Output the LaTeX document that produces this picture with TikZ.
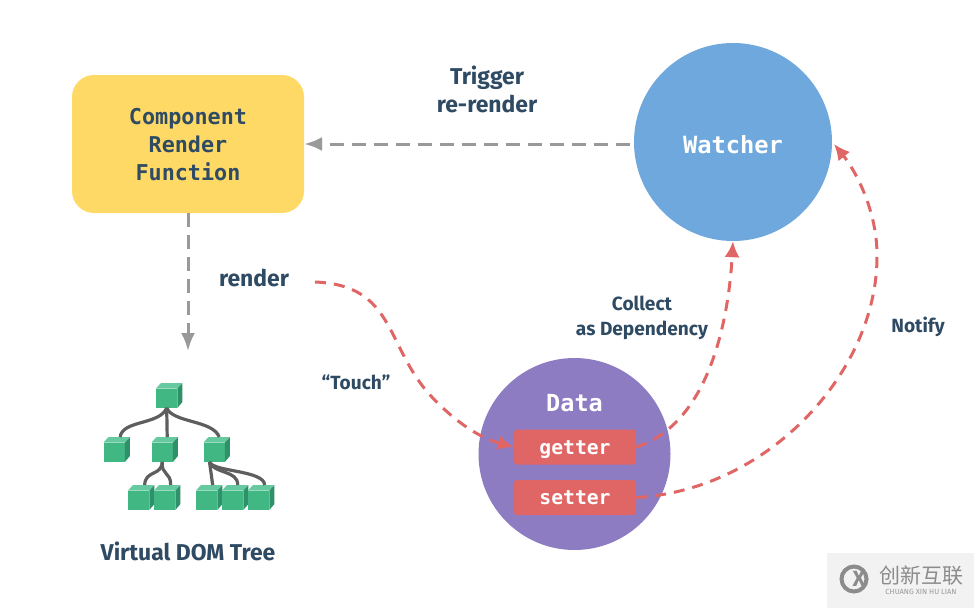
\documentclass[tikz,border=0pt]{standalone}
\usepackage{fontspec}
\setmainfont{Fira Sans}
\setmonofont{DejaVu Sans Mono}
\newfontfamily\cjkfont{Noto Sans CJK SC}
\usetikzlibrary{arrows.meta}
\definecolor{ink}{HTML}{2F4A63}
\definecolor{ymain}{HTML}{FFD966}
\definecolor{bmain}{HTML}{6FA8DC}
\definecolor{pmain}{HTML}{8E7CC3}
\definecolor{rmain}{HTML}{E06666}
\definecolor{gline}{HTML}{999999}
\definecolor{gfront}{HTML}{41B883}
\definecolor{gtop}{HTML}{66C9A0}
\definecolor{gside}{HTML}{2F9169}
\definecolor{edgegray}{HTML}{5E5E5E}
\tikzset{
  monolabel/.style={font=\ttfamily\bfseries\fontsize{21.8}{28.3}\selectfont,align=center},
  sanslabel/.style={font=\bfseries\fontsize{22.9}{28}\selectfont,text=ink,align=center},
  smalllabel/.style={font=\bfseries\fontsize{19.1}{24.5}\selectfont,text=ink,align=center},
  flowgray/.style={draw=gline,line width=3pt,dash pattern=on 14pt off 8pt,-{Latex[length=18pt,width=14pt]}},
  flowred/.style={draw=rmain,line width=3pt,dash pattern=on 11pt off 8pt,-{Latex[length=16pt,width=15pt]}},
  cubefront/.style={fill=gfront,inner sep=0pt,minimum width=21pt,minimum height=19pt,anchor=north west},
  treeedge/.style={draw=edgegray,line width=3.2pt},
  pill/.style={fill=rmain,rounded corners=3pt,minimum width=122pt,minimum height=35pt,inner sep=0pt,text=white,text height=14pt,text depth=0pt,font=\ttfamily\bfseries\fontsize{19.7}{24}\selectfont}
}
\newcommand{\cubeat}[3]{%
  \node[cubefront] (#1) at (#2,#3) {};
  \fill[gtop] (#1.north west) -- ++(5,-5.5) -- ++(21,0) -- (#1.north east) -- cycle;
  \fill[gside] (#1.north east) -- ++(5,-5.5) -- ++(0,19) -- (#1.south east) -- cycle;
}
\begin{document}
\begin{tikzpicture}[x=1pt,y=-1pt]
\useasboundingbox (0,0) rectangle (974,608);
% main shapes
\node[fill=ymain,rounded corners=22pt,minimum width=232pt,minimum height=138pt,inner sep=0pt] (comp) at (188,144) {};
\node[monolabel,text=ink] (complabel) at (188,144.5) {Component\\Render\\Function};
\node[circle,fill=bmain,minimum size=198pt,inner sep=0pt] (watcher) at (733,142) {};
\node[text=white,font=\ttfamily\bfseries\fontsize{23.7}{28}\selectfont] (watcherlabel) at (733,144.5) {Watcher};
\node[circle,fill=pmain,minimum size=192pt,inner sep=0pt] (data) at (574.5,454) {};
\node[text=white,font=\ttfamily\bfseries\fontsize{23.5}{26}\selectfont] (datalabel) at (574.5,403.5) {Data};
\node[pill] (getter) at (575,447) {getter};
\node[pill] (setter) at (575,497.5) {setter};
% labels
\node[sanslabel] (trigger) at (487,89) {Trigger\\re-render};
\node[sanslabel] (render) at (254,278) {render};
\node[smalllabel] (collect) at (642,318) {Collect\\as Dependency};
\node[smalllabel] (notify) at (918,326.5) {Notify};
\node[smalllabel] (touch) at (356,382) {“Touch”};
\node[sanslabel] (vdom) at (188,551) {Virtual DOM Tree};
% free ends
\coordinate (renderstart) at (315,282);
\coordinate (treetop) at (188,351);
% connectors
\draw[flowgray] ([yshift=-2pt,xshift=-4pt]watcher.west) -- (comp.east);
\draw[flowgray] (comp.south) -- (treetop);
\draw[flowred] (renderstart) .. controls (395,285) and (385,345) .. (430,395) .. controls (455,422) and (480,438) .. (getter.west);
\draw[flowred] (getter.east) .. controls (705,425) and (728,330) .. (watcher.south);
\draw[flowred] (setter.east) .. controls (770,490) and (878,370) .. (877,255) .. controls (877,210) and (855,170) .. (834,144);
% tree
\cubeat{c0}{156}{388.5}
\cubeat{c1}{103.5}{442.5}
\cubeat{c2}{151.5}{442.5}
\cubeat{c3}{203.5}{442.5}
\cubeat{c4}{128}{490.5}
\cubeat{c5}{154}{490.5}
\cubeat{c6}{196}{490.5}
\cubeat{c7}{222}{490.5}
\cubeat{c8}{248}{490.5}
\begin{scope}[treeedge]
\draw (c0.south) .. controls (160,425) and (122,420) .. ([xshift=6pt,yshift=5.5pt]c1.north);
\draw (c0.south) -- ([xshift=5pt,yshift=5.5pt]c2.north);
\draw (c0.south) .. controls (173,423) and (213,420) .. ([xshift=5pt,yshift=5.5pt]c3.north);
\draw (c2.south) .. controls (162,476) and (145,470) .. ([xshift=6pt,yshift=5.5pt]c4.north);
\draw (c2.south) .. controls (161,475) and (171,472) .. ([xshift=6pt,yshift=5.5pt]c5.north);
\draw ([xshift=6pt]c3.south west) -- ([xshift=6pt,yshift=5.5pt]c6.north);
\draw ([xshift=6pt]c3.south west) .. controls (214,474) and (238,470) .. ([xshift=5pt,yshift=5.5pt]c7.north);
\draw ([xshift=6pt]c3.south west) .. controls (213,472) and (264,470) .. ([xshift=6pt,yshift=5.5pt]c8.north);
\end{scope}
% watermark
\fill[black!5] (827,553) rectangle (974,608);
\node[circle,draw=black!45,line width=4pt,minimum size=25pt,inner sep=0pt] (logo) at (854,579) {};
\node[text=black!45,font=\bfseries\fontsize{22}{22}\selectfont] (logox) at (859,579) {X};
\node[text=black!45,font=\cjkfont\fontsize{21}{21}\selectfont] (wmcn) at (921,576) {创新互联};
\node[text=black!40,font=\fontsize{7.5}{8}\selectfont] (wmen) at (921,592) {CHUANG XIN HU LIAN};
\end{tikzpicture}
\end{document}
